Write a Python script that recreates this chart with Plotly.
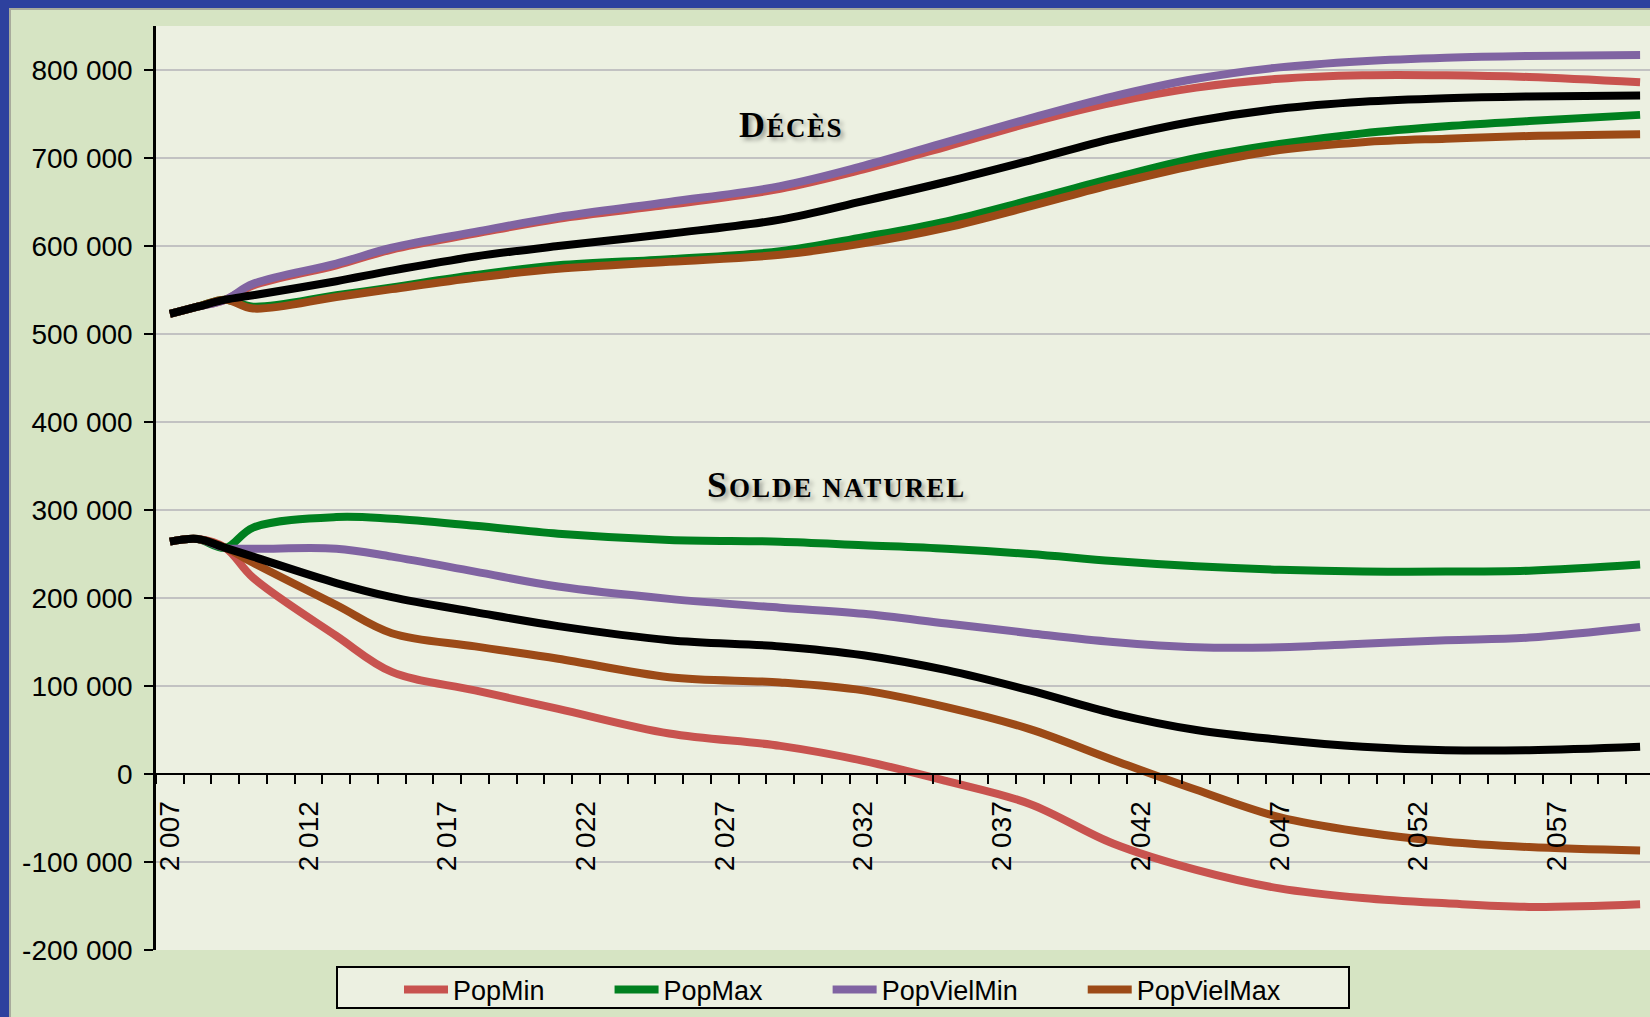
import plotly.graph_objects as go

# ---------------- data (values in thousands of persons) ----------------
years = [2007, 2008, 2009, 2010, 2013, 2015, 2018, 2021, 2025, 2029, 2032,
         2035, 2038, 2041, 2044, 2047, 2050, 2053, 2056, 2060]

# Décès (deaths)
deces_central = [523, 531, 539, 544, 560, 572, 588, 600, 614, 630, 651,
                 673, 697, 722, 742, 756, 764, 768, 770, 771]
deces_popmin = [523, 531, 539, 555, 578, 596, 614, 631, 647, 665, 687,
                713, 740, 763, 780, 790, 794, 794, 792, 786]
deces_popmax = [523, 531, 539, 531, 544, 553, 567, 578, 585, 594, 610,
                628, 652, 677, 700, 716, 728, 736, 742, 749]
deces_vielmin = [523, 531, 539, 557, 580, 598, 616, 633, 650, 668, 691,
                 718, 745, 770, 790, 803, 810, 814, 816, 817]
deces_vielmax = [523, 531, 539, 529, 542, 551, 564, 574, 582, 590, 603,
                 621, 645, 670, 692, 709, 718, 722, 725, 727]

# Solde naturel (natural balance)
solde_central = [264, 267, 257, 247, 217, 201, 184, 168, 152, 145, 135,
                 118, 95, 69, 50, 39, 31, 27, 27, 31]
solde_popmin = [264, 267, 257, 223, 157, 116, 95, 74, 46, 32, 15,
                -8, -34, -79, -109, -130, -141, -147, -151, -148]
solde_popmax = [264, 267, 257, 280, 292, 290, 282, 273, 266, 264, 260,
                256, 250, 242, 236, 232, 230, 230, 231, 238]
solde_vielmin = [264, 267, 257, 256, 256, 247, 230, 213, 199, 189, 182,
                 171, 160, 150, 144, 144, 148, 152, 155, 167]
solde_vielmax = [264, 267, 257, 240, 192, 160, 145, 131, 110, 104, 95,
                 76, 51, 16, -18, -49, -66, -77, -83, -87]

series_names = ["PopMin", "PopMax", "PopVielMin", "PopVielMax"]
series_colors = ["#c8534f", "#00801f", "#8064a2", "#9c4a17"]

y_tick_values = [-200000, -100000, 0, 100000, 200000, 300000, 400000,
                 500000, 600000, 700000, 800000]
x_label_years = [2007, 2012, 2017, 2022, 2027, 2032, 2037, 2042, 2047, 2052, 2057]

# ---------------- layout constants ----------------
W, H = 1650, 1017
ML, MR, MT, MB = 156, 0, 26, 67
PW, PH = W - ML - MR, H - MT - MB
px_per_year = 27.74
x_range = [2006.5, 2006.5 + PW / px_per_year]
y_range = [-200000, 850000]

OUTER_GREEN = "#d6e4c3"
PLOT_BG = "#ecf0e1"
BLUE = "#2d419e"
LW = 8
SMOOTH = 1.0


def k(vals):
    return [v * 1000 for v in vals]


def fmt_thousands(v):
    s = f"{abs(v):,}".replace(",", " ")
    return ("-" if v < 0 else "") + s


def px_x(p):
    return (p - ML) / PW


def px_y(p):
    return (MT + PH - p) / PH


fig = go.Figure()

deaths = [deces_popmin, deces_popmax, deces_vielmin, deces_vielmax]
soldes = [solde_popmin, solde_popmax, solde_vielmin, solde_vielmax]
pad = "\u00a0" * 8

for name, color, d, s in zip(series_names, series_colors, deaths, soldes):
    fig.add_trace(go.Scatter(x=years, y=k(d), mode="lines", name=name + pad,
                             legendgroup=name, showlegend=True,
                             line=dict(color=color, width=LW, shape="spline", smoothing=SMOOTH)))
    fig.add_trace(go.Scatter(x=years, y=k(s), mode="lines", name=name + pad,
                             legendgroup=name, showlegend=False,
                             line=dict(color=color, width=LW, shape="spline", smoothing=SMOOTH)))

for d in [deces_central, solde_central]:
    fig.add_trace(go.Scatter(x=years, y=k(d), mode="lines", name="Central",
                             showlegend=False,
                             line=dict(color="black", width=LW, shape="spline", smoothing=SMOOTH)))


def small_caps(first, rest, big, small, ls):
    return (f"<span style='font-size:{big}px;letter-spacing:{ls}px'>{first}</span>"
            f"<span style='font-size:{small}px;letter-spacing:{ls}px'>{rest}</span>")


ann_font = dict(family="Liberation Serif, Times New Roman, serif", color="black",
                weight="bold", shadow="3px 3px 4px rgba(0,0,0,0.35)")
fig.add_annotation(x=2006.5 + (791 - ML) / px_per_year, y=737000, xref="x", yref="y",
                   text="<b>" + small_caps("D", "ÉCÈS", 36, 27, 1.5) + "</b>",
                   showarrow=False, font=ann_font)
fig.add_annotation(x=2006.5 + (836 - ML) / px_per_year, y=328000, xref="x", yref="y",
                   text="<b>" + small_caps("S", "OLDE NATUREL", 36, 27, 2) + "</b>",
                   showarrow=False, font=ann_font)

# slide panel (green) inside blue frame
fig.add_shape(type="rect", xref="paper", yref="paper", layer="below",
              x0=px_x(10), x1=px_x(W + 20), y0=px_y(H + 20), y1=px_y(9),
              fillcolor=OUTER_GREEN, line=dict(color="#a8ab9c", width=2))
# plot area background
fig.add_shape(type="rect", xref="paper", yref="paper", layer="below",
              x0=0, x1=1, y0=0, y1=1, fillcolor=PLOT_BG, line=dict(width=0))
# legend frame
fig.add_shape(type="rect", xref="paper", yref="paper", layer="below",
              x0=px_x(337), x1=px_x(1349), y0=px_y(1008), y1=px_y(967),
              fillcolor=PLOT_BG, line=dict(width=0))
fig.add_shape(type="rect", xref="paper", yref="paper", layer="above",
              x0=px_x(337), x1=px_x(1349), y0=px_y(1008), y1=px_y(967),
              fillcolor="rgba(0,0,0,0)", line=dict(color="black", width=2))

fig.update_layout(
    width=W, height=H,
    margin=dict(l=ML, r=MR, t=MT, b=MB, pad=0),
    paper_bgcolor=BLUE,
    plot_bgcolor="rgba(0,0,0,0)",
    font=dict(family="Liberation Sans, Arial, sans-serif", size=28, color="black"),
    showlegend=True,
    legend=dict(orientation="h", x=px_x(399), xanchor="left",
                y=px_y(990), yanchor="middle",
                bgcolor="rgba(0,0,0,0)", borderwidth=0,
                font=dict(size=27), itemwidth=44, tracegroupgap=0),
    xaxis=dict(range=x_range, anchor="free",
               position=(0 - y_range[0]) / (y_range[1] - y_range[0]),
               showgrid=False, zeroline=False,
               showline=True, linecolor="black", linewidth=2,
               tickmode="array", tickvals=x_label_years,
               ticktext=[fmt_thousands(y) for y in x_label_years],
               tickangle=-90, ticks="outside", ticklen=9, tickcolor="rgba(0,0,0,0)",
               ticklabelstandoff=6,
               minor=dict(tickmode="array",
                          tickvals=[y + 0.5 for y in range(2006, 2061)],
                          ticks="outside", ticklen=9, tickwidth=2, tickcolor="black",
                          showgrid=False),
               tickfont=dict(size=28)),
    yaxis=dict(range=y_range, showgrid=True, gridcolor="#c2c2c2", gridwidth=2,
               zeroline=False, showline=True, linecolor="black", linewidth=2.5,
               ticks="outside", ticklen=9, tickwidth=2, tickcolor="black",
               tickmode="array", tickvals=y_tick_values,
               ticktext=[fmt_thousands(v) for v in y_tick_values],
               ticklabelstandoff=6, tickfont=dict(size=28)),
)

fig.write_html("out.html", post_script="document.body.style.margin='0';",
               config={"displayModeBar": False})
